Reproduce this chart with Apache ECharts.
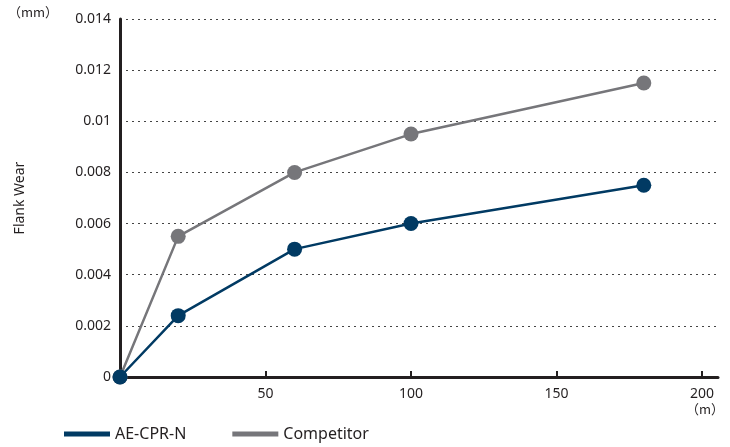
<!DOCTYPE html>
<html>
<head>
<meta charset="utf-8">
<script src="https://cdn.jsdelivr.net/npm/echarts@6/dist/echarts.min.js"></script>
<style>
  html, body { margin: 0; padding: 0; background: #fff; }
  #chart-container { width: 730px; height: 447px; }
</style>
</head>
<body>
<div id="chart-container"></div>
<script>
// cutting distance (m)
const distances = [0, 20, 60, 100, 180];
// flank wear (mm)
const aeWear = [0, 0.0024, 0.005, 0.006, 0.0075];
const compWear = [0, 0.0055, 0.008, 0.0095, 0.0115];
const xTicks = [50, 100, 150, 200];

const seriesNames = ["AE-CPR-N", "Competitor"];
const navy = "#013a63";
const grey = "#76767a";
const ink = "#231f20";
const font = "'Noto Sans', sans-serif";

let dom = document.getElementById("chart-container");
let myChart = echarts.init(dom, null, { renderer: "canvas" });

const pairs = (ys) => distances.map((d, i) => [d, ys[i]]);

let option = {
    animation: false,
    grid: { left: 120, right: 12, top: 19, bottom: 70 },
    legend: {
        data: seriesNames,
        left: 59,
        bottom: 0,
        icon: "rect",
        itemWidth: 46,
        itemHeight: 5,
        itemGap: 46,
        textStyle: { fontSize: 16, color: ink, fontFamily: font },
    },
    xAxis: {
        type: "value",
        min: 0,
        max: 205.5,
        interval: 50,
        axisLine: { lineStyle: { color: ink, width: 3 } },
        axisTick: {
            show: true,
            inside: true,
            length: 6,
            customValues: xTicks,
            lineStyle: { color: ink, width: 2 },
        },
        axisLabel: {
            customValues: xTicks,
            margin: 10,
            fontSize: 14,
            color: ink,
            fontFamily: font,
        },
        splitLine: { show: false },
    },
    yAxis: {
        type: "value",
        min: 0,
        max: 0.014,
        interval: 0.002,
        name: "Flank Wear",
        nameLocation: "middle",
        nameGap: 93,
        nameTextStyle: { fontSize: 14, color: ink, fontFamily: font },
        axisLine: { show: true, lineStyle: { color: ink, width: 3 } },
        axisTick: { show: false },
        axisLabel: {
            margin: 9,
            fontSize: 14,
            color: ink,
            fontFamily: font,
        },
        splitLine: {
            show: true,
            lineStyle: { color: "#444", width: 1, type: [2, 4] },
        },
    },
    graphic: [
        {
            type: "text",
            left: 8,
            top: 6,
            style: { text: "（mm）", fontSize: 13, fill: ink, fontFamily: "'Noto Sans CJK JP', sans-serif" },
        },
        {
            type: "text",
            left: 686,
            top: 403,
            style: { text: "（m）", fontSize: 13, fill: ink, fontFamily: "'Noto Sans CJK JP', sans-serif" },
        },
    ],
    series: [
        {
            name: "Competitor",
            type: "line",
            data: pairs(compWear),
            symbol: "circle",
            symbolSize: 15,
            lineStyle: { color: grey, width: 2.5 },
            itemStyle: { color: grey },
            z: 2,
        },
        {
            name: "AE-CPR-N",
            type: "line",
            data: pairs(aeWear),
            symbol: "circle",
            symbolSize: 15,
            lineStyle: { color: navy, width: 2.5 },
            itemStyle: { color: navy },
            z: 3,
        },
    ],
};

myChart.setOption(option);
window.addEventListener("resize", myChart.resize);
</script>
</body>
</html>
